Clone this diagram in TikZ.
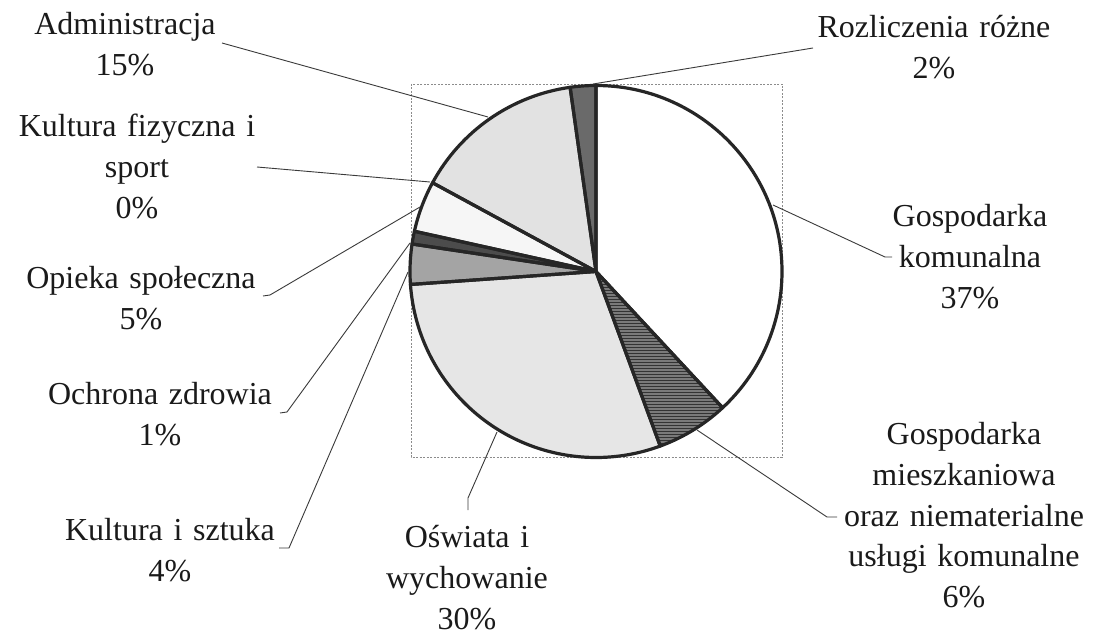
\documentclass[tikz,border=0pt]{standalone}
\usepackage{fontspec}
\setmainfont{Liberation Serif}
\usetikzlibrary{patterns}
\definecolor{txt}{HTML}{1A1A1A}
\definecolor{leadc}{HTML}{3A3A3A}
\definecolor{edgec}{HTML}{262626}
\definecolor{framec}{HTML}{8C8C8C}
\definecolor{cGK}{HTML}{FFFFFF}
\definecolor{cGM}{HTML}{7A7A7A}
\definecolor{cOSW}{HTML}{E6E6E6}
\definecolor{cKIS}{HTML}{A4A4A4}
\definecolor{cOZ}{HTML}{4C4C4C}
\definecolor{cOS}{HTML}{F6F6F6}
\definecolor{cADM}{HTML}{E2E2E2}
\definecolor{cROZ}{HTML}{6A6A6A}
\newcommand\mySlicePath[2]{(c) -- ++(#1:186pt) arc[start angle=#1, end angle=#2, radius=186pt] -- cycle}
\begin{document}
\begin{tikzpicture}[x=1pt,y=-1pt,
  lbl/.style={text width=320pt, align=center, inner sep=0pt, anchor=base,
              font=\fontsize{32}{41}\selectfont, text=txt},
  lead/.style={draw=leadc, line width=0.9pt, line join=round},
  sliceedge/.style={draw=edgec, line width=3.2pt, line join=round}]
\useasboundingbox (0,0) rectangle (1093,636);
\fill[white] (0,0) rectangle (1093,636);
% plot area frame
\draw[framec, dash pattern=on 2pt off 1.5pt, line width=0.9pt] (411,84) rectangle (782,457);
\coordinate (c) at (596,271.5);
% slice fills
\fill[cGK]  \mySlicePath{90}{-47.1};
\fill[cGM]  \mySlicePath{-47.1}{-69.8};
\fill[pattern=horizontal lines, pattern color=black!80] \mySlicePath{-47.1}{-69.8};
\fill[cOSW] \mySlicePath{-69.8}{-176};
\fill[cKIS] \mySlicePath{184}{171.5};
\fill[cOZ]  \mySlicePath{171.5}{167.5};
\fill[cOS]  \mySlicePath{167.5}{151.5};
\fill[cADM] \mySlicePath{151.5}{98};
\fill[cROZ] \mySlicePath{98}{90};
% slice outlines
\draw[sliceedge] \mySlicePath{90}{-47.1};
\draw[sliceedge] \mySlicePath{-47.1}{-69.8};
\draw[sliceedge] \mySlicePath{-69.8}{-176};
\draw[sliceedge] \mySlicePath{184}{171.5};
\draw[sliceedge] \mySlicePath{171.5}{167.5};
\draw[sliceedge] \mySlicePath{167.5}{151.5};
\draw[sliceedge] \mySlicePath{151.5}{98};
\draw[sliceedge] \mySlicePath{98}{90};
% labels
\node[lbl] (adm) at (125,35)  {Administracja\\15\%};
\node[lbl] (kf)  at (137,137) {Kultura fizyczna i\\sport\\0\%};
\node[lbl] (os)  at (141,289) {Opieka społeczna\\5\%};
\node[lbl] (oz)  at (160,404) {Ochrona zdrowia\\1\%};
\node[lbl] (kis) at (170,540) {Kultura i sztuka\\4\%};
\node[lbl] (osw) at (467,547) {Oświata i\\wychowanie\\30\%};
\node[lbl] (gm)  at (964,444) {Gospodarka\\mieszkaniowa\\oraz niematerialne\\usługi komunalne\\6\%};
\node[lbl] (gk)  at (970,227) {Gospodarka\\komunalna\\37\%};
\node[lbl] (roz) at (934,38)  {Rozliczenia różne\\2\%};
% leader anchor points
\coordinate (admS) at (222,43);   \coordinate (admE) at (488,117);
\coordinate (kfS)  at (257,167);  \coordinate (kfE)  at (430,182);
\coordinate (osS)  at (263,296);  \coordinate (osK)  at (270,295);  \coordinate (osE) at (420,207);
\coordinate (ozS)  at (280,413);  \coordinate (ozK)  at (287,412);  \coordinate (ozE) at (410,243);
\coordinate (kisS) at (279,548);  \coordinate (kisK) at (289,548);  \coordinate (kisE) at (408,272);
\coordinate (oswS) at (468,510);  \coordinate (oswK) at (468,498);  \coordinate (oswE) at (497,432);
\coordinate (gmS)  at (837,517);  \coordinate (gmK)  at (827,517);  \coordinate (gmE) at (697,430);
\coordinate (gkS)  at (892,257);  \coordinate (gkK)  at (885,257);  \coordinate (gkE) at (773,205);
\coordinate (rozS) at (813,48);   \coordinate (rozE) at (593,84);
% leader lines
\draw[lead] (admS) -- (admE);
\draw[lead] (kfS) -- (kfE);
\draw[lead] (osS) -- (osK) -- (osE);
\draw[lead] (ozS) -- (ozK) -- (ozE);
\draw[lead] (kisS) -- (kisK) -- (kisE);
\draw[lead] (oswS) -- (oswK) -- (oswE);
\draw[lead] (gmS) -- (gmK) -- (gmE);
\draw[lead] (gkS) -- (gkK) -- (gkE);
\draw[lead] (rozS) -- (rozE);
\end{tikzpicture}
\end{document}
